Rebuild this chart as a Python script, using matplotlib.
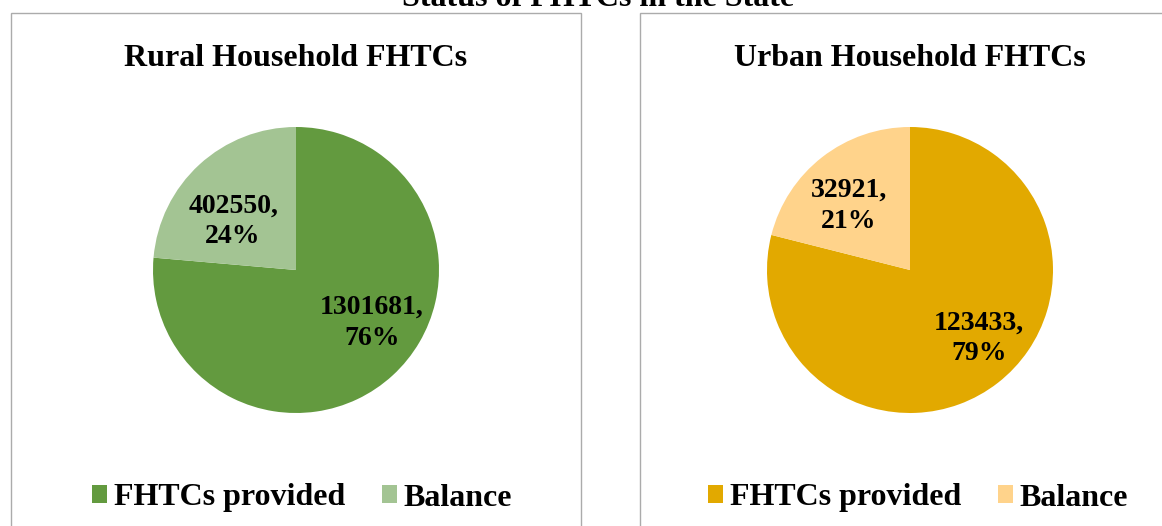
import matplotlib
matplotlib.use("Agg")
import matplotlib.pyplot as plt
from matplotlib.patches import Rectangle

# ---- data ----
main_title = "Status of FHTCs in the State"
categories = ["FHTCs provided", "Balance"]
rural_title = "Rural Household FHTCs"
rural_values = [1301681, 402550]
urban_title = "Urban Household FHTCs"
urban_values = [123433, 32921]

# ---- style ----
rural_colors = ["#639A3F", "#A3C493"]
urban_colors = ["#E2A900", "#FFD38B"]
border_color = "#ABABAB"
FONT = ["Liberation Serif", "DejaVu Serif"]
plt.rcParams["font.family"] = FONT
plt.rcParams["font.weight"] = "bold"

W, H = 1162, 526
DPI = 100
fig = plt.figure(figsize=(W / DPI, H / DPI), dpi=DPI)


def fx(px):
    return px / W


def fy(py):
    return 1 - py / H


# panel borders (pixel layout)
for (x0, y0, x1, y1) in [(11, 13, 581, 540), (640, 13, 1180, 540)]:
    fig.patches.append(Rectangle((fx(x0), fy(y1)), fx(x1) - fx(x0), fy(y0) - fy(y1),
                                 transform=fig.transFigure, fill=False,
                                 edgecolor=border_color, linewidth=1.0))

# main title (cut at top in the reference)
fig.text(fx(598), fy(6), main_title, ha="center", va="baseline",
         fontsize=23, fontweight="bold")

panels = [
    dict(title=rural_title, values=rural_values, colors=rural_colors, cx=296,
         label_pos=[(0.53, -0.37), (-0.44, 0.34)], legend_cx=302),
    dict(title=urban_title, values=urban_values, colors=urban_colors, cx=910,
         label_pos=[(0.48, -0.48), (-0.43, 0.45)], legend_cx=918),
]

R = 143
CY = 270
for p in panels:
    cx = p["cx"]
    ax = fig.add_axes([fx(cx - R), fy(CY + R), 2 * R / W, 2 * R / H])
    vals = p["values"]
    total = sum(vals)

    def fmt(pct, vals=vals, total=total):
        v = round(pct * total / 100.0)
        return f"{v},\n{pct:.0f}%"

    wedges, texts, autotexts = ax.pie(vals, colors=p["colors"], startangle=90,
                                      counterclock=False, autopct=fmt,
                                      pctdistance=0.6, radius=1.0,
                                      wedgeprops=dict(linewidth=0))
    for t, pos in zip(autotexts, p["label_pos"]):
        t.set_position(pos)
        t.set_fontsize(20)
        t.set_fontweight("bold")
        t.set_linespacing(1.3)
        t.set_ha("center")
        t.set_va("center")
    ax.set_xlim(-1, 1)
    ax.set_ylim(-1, 1)
    ax.set_aspect("equal")
    ax.axis("off")

    fig.text(fx(cx), fy(66), p["title"], ha="center", va="baseline",
             fontsize=23, fontweight="bold")

    fig.legend(wedges, categories, loc="center",
               bbox_to_anchor=(fx(p["legend_cx"]), fy(498)),
               ncol=2, frameon=False, prop=dict(family=FONT, weight="bold", size=23),
               handlelength=0.47, handleheight=0.47, handletextpad=0.2,
               columnspacing=1.15, borderpad=0, borderaxespad=0)

fig.savefig("out.png", dpi=DPI)
